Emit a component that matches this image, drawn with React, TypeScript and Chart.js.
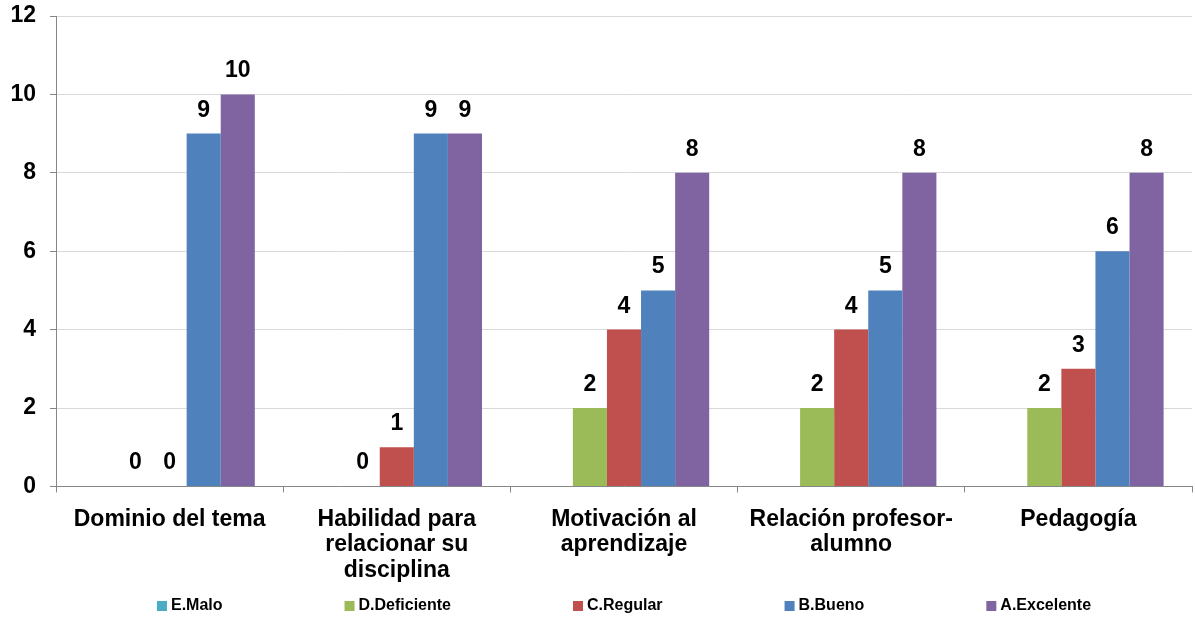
import React, { useEffect, useRef } from "react";
import { Chart, registerables } from "chart.js";

Chart.register(...registerables);

const categories: string[][] = [
  ["Dominio del tema"],
  ["Habilidad para", "relacionar su", "disciplina"],
  ["Motivación al", "aprendizaje"],
  ["Relación profesor-", "alumno"],
  ["Pedagogía"],
];

const seriesNames = ["E.Malo", "D.Deficiente", "C.Regular", "B.Bueno", "A.Excelente"];
const eMalo: (number | null)[] = [null, null, null, null, null];
const dDeficiente: (number | null)[] = [0, 0, 2, 2, 2];
const cRegular: (number | null)[] = [0, 1, 4, 4, 3];
const bBueno: (number | null)[] = [9, 9, 5, 5, 6];
const aExcelente: (number | null)[] = [10, 9, 8, 8, 8];
const seriesColors = ["#4BACC6", "#9BBB59", "#C0504D", "#4F81BD", "#8064A2"];

const yMin = 0;
const yMax = 12;
const yStep = 2;

const FONT_FAMILY = '"Liberation Sans", Arial, sans-serif';

const valueLabelPlugin = {
  id: "valueLabels",
  afterDatasetsDraw(chart: any) {
    const ctx = chart.ctx;
    ctx.save();
    ctx.font = `bold 23px ${FONT_FAMILY}`;
    ctx.fillStyle = "#000";
    ctx.textAlign = "center";
    ctx.textBaseline = "alphabetic";
    chart.data.datasets.forEach((ds: any, i: number) => {
      const meta = chart.getDatasetMeta(i);
      meta.data.forEach((el: any, j: number) => {
        const v = ds.data[j];
        if (v === null || v === undefined) return;
        ctx.fillText(String(v), el.x, el.y - 17);
      });
    });
    ctx.restore();
  },
};

const customLegendPlugin = {
  id: "customLegend",
  afterDraw(chart: any) {
    const ctx = chart.ctx;
    ctx.save();
    ctx.font = `bold 16px ${FONT_FAMILY}`;
    const box = 10;
    const gap = 4;
    const pad = 122;
    const items = chart.data.datasets.map((ds: any) => ({
      label: ds.label,
      color: ds.backgroundColor,
      w: box + gap + ctx.measureText(ds.label).width,
    }));
    const total =
      items.reduce((s: number, it: any) => s + it.w, 0) + pad * (items.length - 1);
    const ca = chart.chartArea;
    let x = (ca.left + ca.right) / 2 - total / 2;
    const y = chart.height - 11;
    ctx.textBaseline = "middle";
    ctx.textAlign = "left";
    items.forEach((it: any) => {
      ctx.fillStyle = it.color;
      ctx.fillRect(x, y - box / 2, box, box);
      ctx.fillStyle = "#000";
      ctx.fillText(it.label, x + box + gap, y);
      x += it.w + pad;
    });
    ctx.restore();
  },
};

export default function App() {
  const canvasRef = useRef<HTMLCanvasElement | null>(null);

  useEffect(() => {
    if (!canvasRef.current) return;
    const seriesData = [eMalo, dDeficiente, cRegular, bBueno, aExcelente];
    const chart = new Chart(canvasRef.current, {
      type: "bar",
      data: {
        labels: categories,
        datasets: seriesNames.map((name, i) => ({
          label: name,
          data: seriesData[i],
          backgroundColor: seriesColors[i],
          borderWidth: 0,
          categoryPercentage: 0.75,
          barPercentage: 1.0,
        })),
      },
      options: {
        animation: false,
        responsive: true,
        maintainAspectRatio: false,
        layout: { padding: { top: 16, left: 10, right: 3, bottom: 20 } },
        plugins: {
          legend: { display: false },
          tooltip: { enabled: false },
        },
        scales: {
          x: {
            afterFit(scale: any) {
              scale.paddingLeft = 0;
              scale.paddingRight = 0;
            },
            grid: {
              display: true,
              drawOnChartArea: false,
              drawTicks: true,
              tickLength: 6,
              tickColor: "#868686",
            },
            border: { display: true, color: "#868686", width: 1 },
            ticks: {
              color: "#000",
              autoSkip: false,
              maxRotation: 0,
              padding: 14,
              font: { family: FONT_FAMILY, size: 23, weight: "bold", lineHeight: 1.11 },
            },
          },
          y: {
            min: yMin,
            max: yMax,
            afterFit(scale: any) {
              scale.paddingTop = 0;
              scale.paddingBottom = 0;
              scale.paddingLeft = 0;
              scale.paddingRight = 0;
              scale.width = 46;
            },
            ticks: {
              stepSize: yStep,
              color: "#000",
              padding: 14,
              font: { family: FONT_FAMILY, size: 23, weight: "bold", lineHeight: 1.11 },
            },
            grid: {
              color: "#D9D9D9",
              tickColor: "#868686",
              tickLength: 6,
            },
            border: { display: true, color: "#868686", width: 1 },
          },
        },
      },
      plugins: [valueLabelPlugin, customLegendPlugin],
    });
    return () => chart.destroy();
  }, []);

  return (
    <div
      style={{
        position: "fixed",
        left: 0,
        top: 0,
        width: "1195px",
        height: "617px",
        background: "#fff",
      }}
    >
      <canvas ref={canvasRef} />
    </div>
  );
}
